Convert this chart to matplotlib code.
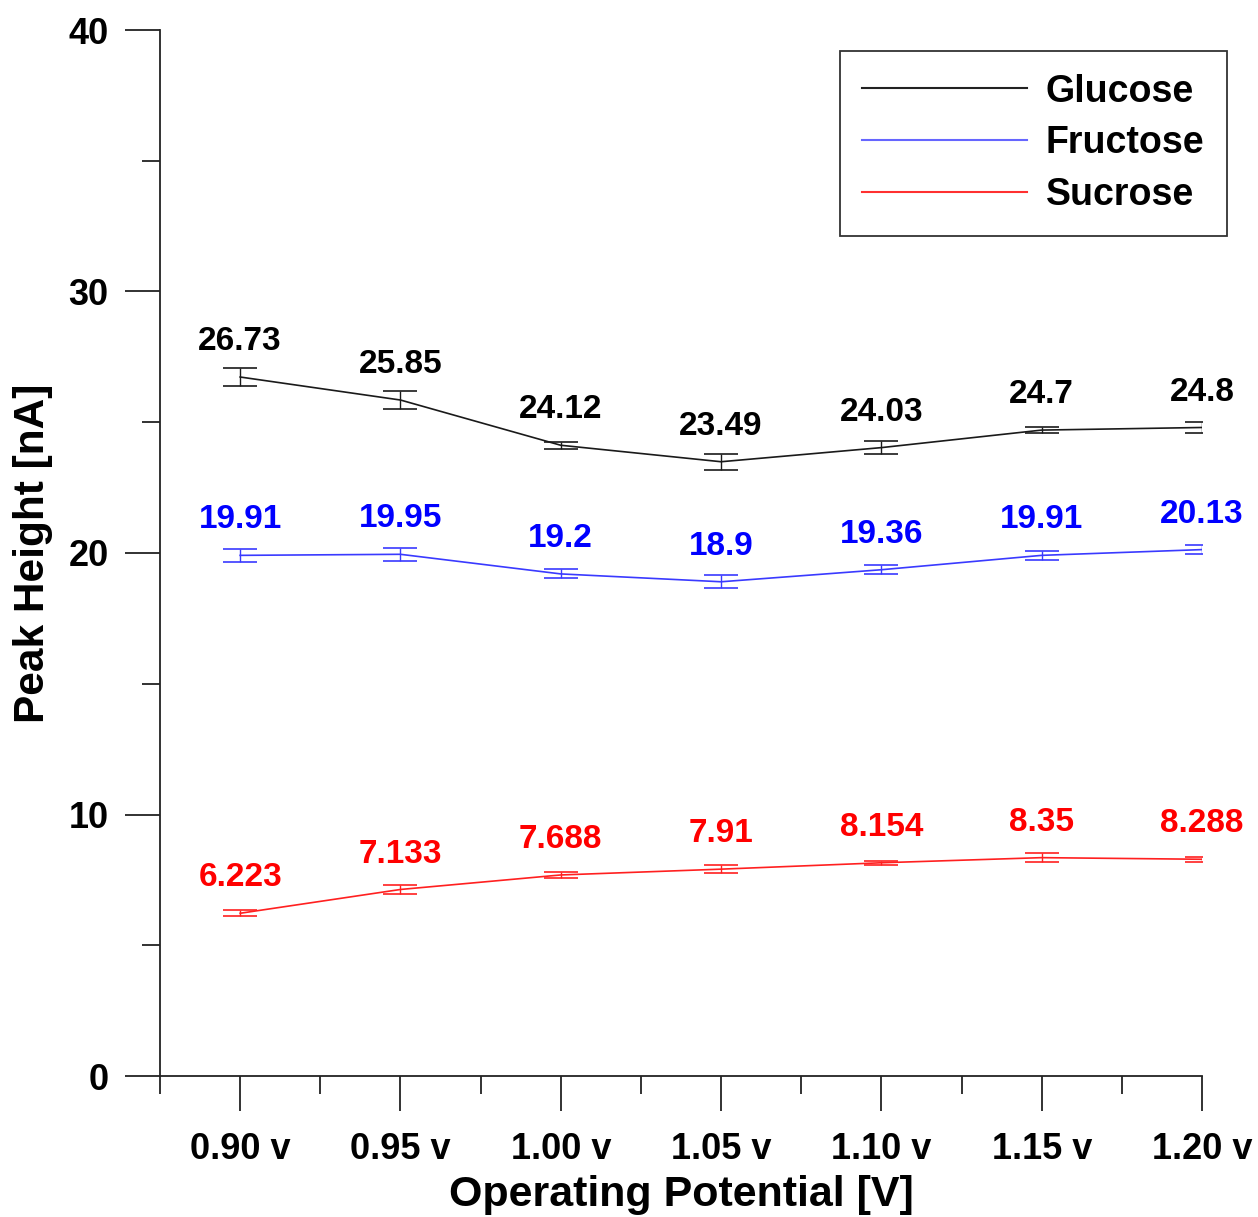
import matplotlib
matplotlib.use("Agg")
import matplotlib.pyplot as plt
from matplotlib.ticker import FixedLocator, MultipleLocator

plt.rcParams['font.family'] = ['Liberation Sans', 'DejaVu Sans']
plt.rcParams['font.weight'] = 'bold'

categories = ["0.90 v", "0.95 v", "1.00 v", "1.05 v", "1.10 v", "1.15 v", "1.20 v"]
glucose = [26.73, 25.85, 24.12, 23.49, 24.03, 24.7, 24.8]
glucose_err = [0.35, 0.33, 0.13, 0.31, 0.24, 0.10, 0.21]
fructose = [19.91, 19.95, 19.2, 18.9, 19.36, 19.91, 20.13]
fructose_err = [0.25, 0.26, 0.17, 0.25, 0.17, 0.16, 0.16]
sucrose = [6.223, 7.133, 7.688, 7.91, 8.154, 8.35, 8.288]
sucrose_err = [0.11, 0.18, 0.12, 0.16, 0.08, 0.16, 0.10]
glucose_labels = ["26.73", "25.85", "24.12", "23.49", "24.03", "24.7", "24.8"]
fructose_labels = ["19.91", "19.95", "19.2", "18.9", "19.36", "19.91", "20.13"]
sucrose_labels = ["6.223", "7.133", "7.688", "7.91", "8.154", "8.35", "8.288"]

W, H = 1258, 1217
fig = plt.figure(figsize=(W / 100, H / 100), dpi=100)
ax = fig.add_axes([160 / W, 1 - 1076 / H, (1202 - 160) / W, (1076 - 30) / H])

x = list(range(len(categories)))
series = [
    ("Glucose", glucose, glucose_err, glucose_labels, "#1a1a1a", "#000000", "#222222"),
    ("Fructose", fructose, fructose_err, fructose_labels, "#3a3aff", "#0000ff", "#6666ff"),
    ("Sucrose", sucrose, sucrose_err, sucrose_labels, "#ff2020", "#ff0000", "#ff3030"),
]
handles = []
for name, vals, errs, labs, lc, tc, legc in series:
    ax.errorbar(x, vals, yerr=errs, color=lc, lw=1.2, elinewidth=1.0,
                capsize=12, capthick=1.2, zorder=3)
    h, = ax.plot([], [], color=legc, lw=1.5, label=name)
    handles.append(h)
    for xi, v, t in zip(x, vals, labs):
        ax.annotate(t, (xi, v), xytext=(0, 25.5), textcoords='offset points',
                    ha='center', va='center', color=tc, fontsize=24,
                    fontweight='bold')

ax.set_xlim(-0.5, 6)
ax.set_ylim(0, 40)
ax.xaxis.set_major_locator(FixedLocator(x))
ax.set_xticklabels(categories)
ax.xaxis.set_minor_locator(FixedLocator([i - 0.5 for i in x]))
ax.yaxis.set_major_locator(MultipleLocator(10))
ax.yaxis.set_minor_locator(MultipleLocator(5))

for s in ['top', 'right']:
    ax.spines[s].set_visible(False)
for s in ['left', 'bottom']:
    ax.spines[s].set_linewidth(1.3)
    ax.spines[s].set_color('#222222')

ax.tick_params(axis='both', which='major', direction='out', length=25, width=1.3,
               color='#222222', labelsize=26)
ax.tick_params(axis='both', which='minor', direction='out', length=13, width=1.3,
               color='#222222')
ax.tick_params(axis='x', which='major', pad=15)
ax.tick_params(axis='y', which='major', pad=12)
for lab in ax.get_xticklabels() + ax.get_yticklabels():
    lab.set_fontweight('bold')

ax.set_xlabel("Operating Potential [V]", fontsize=31, fontweight='bold', labelpad=6)
ax.set_ylabel("Peak Height [nA]", fontsize=30.5, fontweight='bold', labelpad=11)

leg = ax.legend(handles=handles, loc='upper right',
                bbox_to_anchor=(1227 / W, 1 - 51 / H), bbox_transform=fig.transFigure,
                borderaxespad=0, fancybox=False, framealpha=1, edgecolor='#333333',
                handlelength=4.4, handletextpad=0.5, labelspacing=0.42,
                borderpad=0.6, prop={'weight': 'bold', 'size': 27})
leg.get_frame().set_linewidth(1.3)

fig.savefig("out.png", dpi=100)
